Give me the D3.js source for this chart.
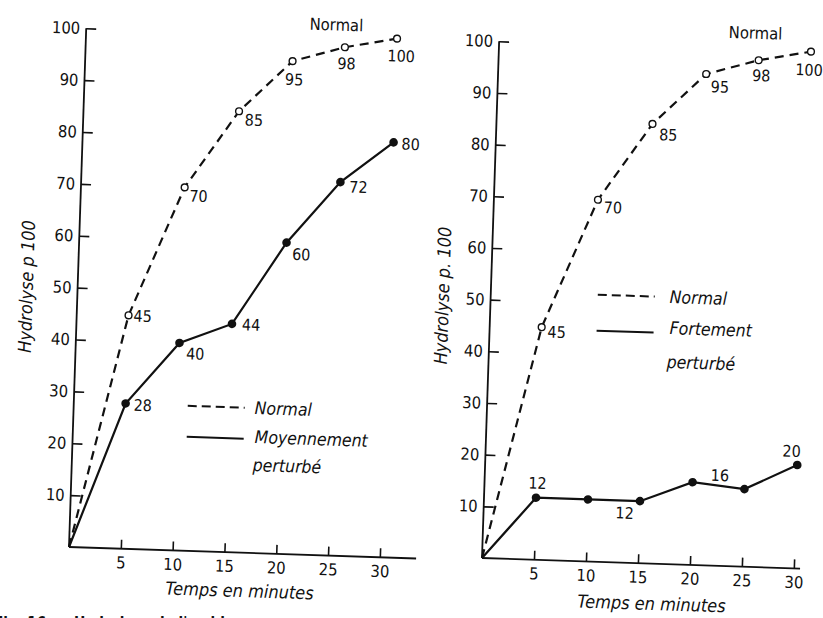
<!DOCTYPE html>
<html>
<head>
<meta charset="utf-8">
<script src="https://cdn.jsdelivr.net/npm/d3@7"></script>
<style>
  html, body { margin: 0; padding: 0; background: #fff; }
  svg { display: block; }
  text { font-family: "DejaVu Sans Condensed", "Liberation Sans Narrow", "DejaVu Sans", sans-serif; fill: #111; }
</style>
</head>
<body>
<svg id="fig" width="823" height="618"></svg>
<script>
// Hydrolysis (%) against time (minutes)
const minutes = [0, 5, 10, 15, 20, 25, 30];
const normal = [0, 45, 70, 85, 95, 98, 100];
const moyennement = [0, 28, 40, 44, 60, 72, 80];
const fortement = [0, 12, 12, 12, 16, 15, 20];
const xTicks = [5, 10, 15, 20, 25, 30];
const yTicks = [10, 20, 30, 40, 50, 60, 70, 80, 90, 100];

// Which points carry a value label
const normalLabelled = [1, 2, 3, 4, 5, 6];
const moyenLabelled = [1, 2, 3, 4, 5, 6];
const fortLabelled = [1, 3, 4, 6];

const svg = d3.select("#fig");
const ink = "#111";

function panel(cfg) {
  const g = svg.append("g")
    .attr("transform", `translate(${cfg.ox},${cfg.oy}) rotate(${cfg.angle})`);

  const x = d3.scaleLinear().domain([0, 30]).range([0, cfg.xLen]);
  const y = d3.scaleLinear().domain([0, 100]).range([0, -cfg.yLen]);

  // axes: ticks point inward, labels outside
  const xAxis = d3.axisBottom(x).tickValues(xTicks).tickSize(-9).tickSizeOuter(0).tickPadding(8);
  const yAxis = d3.axisLeft(y).tickValues(yTicks).tickSize(-10).tickSizeOuter(0).tickPadding(6);

  const gx = g.append("g").call(xAxis);
  const gy = g.append("g").call(yAxis);
  [gx, gy].forEach(a => {
    a.select(".domain").remove();
    a.selectAll("line").attr("stroke", ink).attr("stroke-width", 1.6);
    a.selectAll("text").attr("font-size", 16.5).attr("fill", ink)
      .attr("font-family", '"DejaVu Sans Condensed", "Liberation Sans Narrow", "DejaVu Sans", sans-serif');
  });
  g.append("line").attr("x1", 0).attr("y1", 0).attr("x2", x(cfg.xEnd)).attr("y2", 0)
    .attr("stroke", ink).attr("stroke-width", 1.8);
  g.append("line").attr("x1", 0).attr("y1", 0).attr("x2", 0).attr("y2", y(100))
    .attr("stroke", ink).attr("stroke-width", 1.8);

  const line = d3.line().x(d => x(d[0])).y(d => y(d[1]));
  const ptsN = minutes.map((m, i) => [m, normal[i]]);
  const ptsP = minutes.map((m, i) => [m, cfg.values[i]]);

  g.append("path").datum(ptsN).attr("d", line).attr("fill", "none")
    .attr("stroke", ink).attr("stroke-width", 2.2).attr("stroke-dasharray", "9,6");
  g.append("path").datum(ptsP).attr("d", line).attr("fill", "none")
    .attr("stroke", ink).attr("stroke-width", 2.2);

  g.selectAll("circle.n").data(ptsN.slice(1)).join("circle")
    .attr("cx", d => x(d[0])).attr("cy", d => y(d[1])).attr("r", 3.4)
    .attr("fill", "#fff").attr("stroke", ink).attr("stroke-width", 1.4);
  g.selectAll("circle.p").data(ptsP.slice(1)).join("circle")
    .attr("cx", d => x(d[0])).attr("cy", d => y(d[1])).attr("r", 4.3)
    .attr("fill", ink);

  // value labels
  function labels(pts, idx, offs, anchor) {
    idx.forEach((i, k) => {
      g.append("text")
        .attr("x", x(pts[i][0]) + offs[k][0])
        .attr("y", y(pts[i][1]) + offs[k][1])
        .attr("text-anchor", anchor)
        .attr("font-size", 16)
        .text(pts[i][1]);
    });
  }
  labels(ptsN, normalLabelled, cfg.nOff, "start");
  labels(ptsP, cfg.pIdx, cfg.pOff, cfg.pAnchor);

  // curve name at the top
  g.append("text").attr("x", cfg.topLabel[0]).attr("y", cfg.topLabel[1])
    .attr("text-anchor", "middle").attr("font-size", 16.5).text("Normal");

  // legend
  const L = cfg.legend;
  g.append("line").attr("x1", L.x0).attr("x2", L.x1).attr("y1", L.yDash).attr("y2", L.yDash)
    .attr("stroke", ink).attr("stroke-width", 2).attr("stroke-dasharray", "9,5");
  g.append("line").attr("x1", L.x0).attr("x2", L.x1).attr("y1", L.ySolid).attr("y2", L.ySolid)
    .attr("stroke", ink).attr("stroke-width", 2);
  L.texts.forEach(t => {
    g.append("text").attr("x", t[0]).attr("y", t[1]).attr("font-size", 17.5)
      .attr("font-style", "italic").text(t[2]);
  });

  // axis titles
  g.append("text")
    .attr("transform", `translate(${cfg.yTitle[0]},${cfg.yTitle[1]}) rotate(-90)`)
    .attr("text-anchor", "middle").attr("dy", "0.35em")
    .attr("font-size", 18).attr("font-style", "italic").text(cfg.yTitle[2]);
  g.append("text")
    .attr("x", cfg.xTitle[0]).attr("y", cfg.xTitle[1])
    .attr("text-anchor", "middle").attr("dy", "0.35em")
    .attr("font-size", 18).attr("font-style", "italic").text("Temps en minutes");
}

panel({
  ox: 69, oy: 547, angle: 1.9, xLen: 311, yLen: 519, xEnd: 33.5,
  values: moyennement,
  nOff: [[5, 6], [5, 14], [6, 14], [-7, 24], [-7, 22], [-9, 23]],
  pIdx: moyenLabelled,
  pOff: [[8, 7], [7, 16], [10, 6], [6, 17], [9, 10], [8, 7]],
  pAnchor: "start",
  topLabel: [250, -525],
  legend: {
    x0: 114, x1: 171, yDash: -145, ySolid: -114,
    texts: [[181, -139, "Normal"], [182, -110, "Moyennement"], [181, -82, "perturbé"]]
  },
  yTitle: [-51, -259, "Hydrolyse p 100"],
  xTitle: [172, 38]
});

panel({
  ox: 482, oy: 558, angle: 1.9, xLen: 312, yLen: 517, xEnd: 30.6,
  values: fortement,
  nOff: [[6, 10], [6, 13], [7, 16], [5, 18], [-6, 21], [-15, 24]],
  pIdx: fortLabelled,
  pOff: [[1, -9], [-15, 18], [27, -2], [-6, -8]],
  pAnchor: "middle",
  topLabel: [256, -528],
  legend: {
    x0: 107, x1: 164, yDash: -267, ySolid: -231,
    texts: [[179, -261, "Normal"], [180, -230, "Fortement"], [178, -196, "perturbé"]]
  },
  yTitle: [-48, -261, "Hydrolyse p. 100"],
  xTitle: [171, 40]
});

// caption line, cut by the lower edge
svg.append("text").attr("x", -6).attr("y", 628)
  .attr("font-family", '"Liberation Serif", "DejaVu Serif", serif')
  .attr("font-weight", "bold").attr("font-size", 15)
  .text("Fig. 16. — Hydrolyse de l'amidon");
</script>
</body>
</html>
